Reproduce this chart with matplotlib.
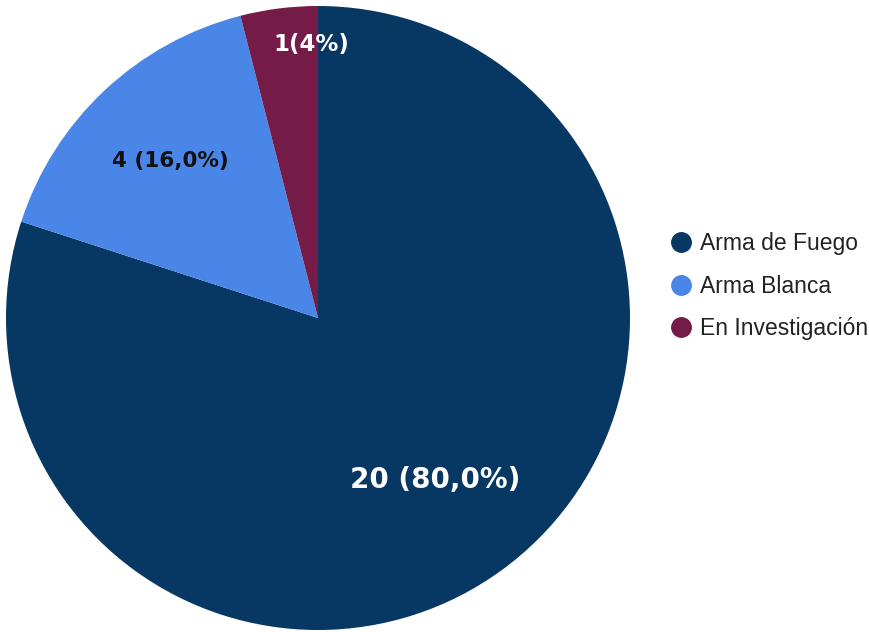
import numpy as np
import matplotlib
matplotlib.use("Agg")
import matplotlib.pyplot as plt
from matplotlib.lines import Line2D

# data
categories = ["Arma de Fuego", "Arma Blanca", "En Investigación"]
values = [20, 4, 1]
labels = ["20 (80,0%)", "4 (16,0%)", "1(4%)"]
colors = ["#073763", "#4a86e8", "#741b47"]
label_colors = ["white", "#111111", "white"]
label_sizes = [20, 15.5, 16.5]
label_dist = [0.64, 0.69, 0.885]
label_dx = [0.0, 0.0, 0.09]

fig = plt.figure(figsize=(8.7, 6.32), dpi=100)
ax = fig.add_axes([6 / 870, 2 / 632, 624 / 870, 624 / 632])

wedges, _ = ax.pie(values, colors=colors, startangle=90, counterclock=False,
                   radius=1.0, wedgeprops=dict(linewidth=0))
ax.set_xlim(-1, 1)
ax.set_ylim(-1, 1)
ax.set_aspect("equal")
ax.axis("off")

for w, lab, col, fs, d, dx in zip(wedges, labels, label_colors, label_sizes,
                                  label_dist, label_dx):
    mid = np.deg2rad((w.theta1 + w.theta2) / 2)
    ax.text(d * np.cos(mid) + dx, d * np.sin(mid), lab, ha="center", va="center",
            color=col, fontsize=fs, fontweight="bold", family="DejaVu Sans")

handles = [Line2D([], [], marker="o", linestyle="none", markersize=14,
                  markerfacecolor=c, markeredgecolor=c) for c in colors]
fig.legend(handles, categories, loc="center left", bbox_to_anchor=(647 / 870, 0.547),
           frameon=False, handlelength=1.2, handletextpad=0.2, labelspacing=0.85,
           prop={"family": "Liberation Sans", "size": 16.5}, labelcolor="#222222")

fig.savefig("out.png", dpi=100, facecolor="white")
